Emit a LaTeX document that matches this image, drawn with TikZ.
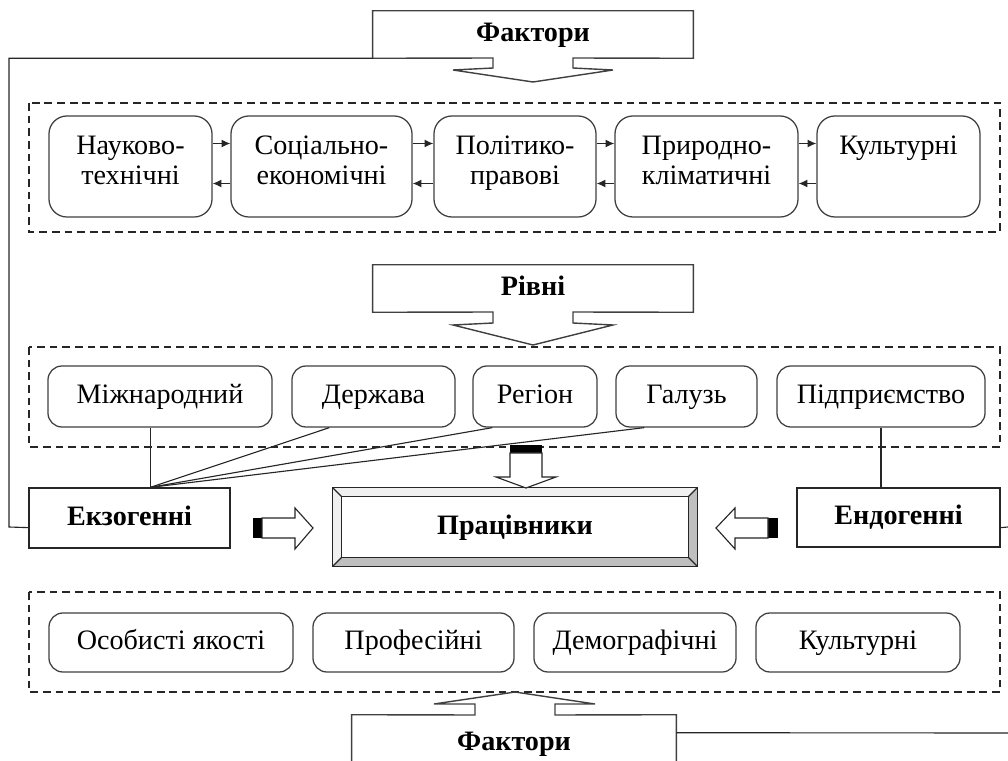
\documentclass[tikz,border=0pt]{standalone}
\usepackage{fontspec}
\setmainfont{Liberation Serif}
\usetikzlibrary{calc,arrows.meta}
\newcommand{\fsz}{\fontsize{20pt}{21.3pt}\selectfont}

\begin{document}
\begin{tikzpicture}[x=0.025cm,y=-0.025cm,
	every node/.style={font=\fsz,inner sep=0pt,align=center,text height=14pt,text depth=4pt},
	factbox/.style={draw=black!75,line width=0.9pt,rounded corners=0.35cm,fill=white},
	twoline/.style={rounded corners=0.45cm,text height=1.45cm,text depth=0.575cm},
	framebox/.style={draw=black!85,line width=0.9pt,fill=white,font=\fsz\bfseries},
	headbox/.style={font=\fsz\bfseries},
	callout/.style={draw=black!75,line width=1pt},
	group/.style={draw=black!85,line width=0.8pt,dash pattern=on 5.5pt off 3.5pt},
	link/.style={draw=black!85,line width=0.8pt},
	tip/.style={-{Latex[length=0.22cm,width=0.2cm]}},
	blockarrow/.style={draw=black!85,line width=0.8pt,fill=white}]
			\useasboundingbox (0,0) rectangle (1008,761);
			\clip (0,0) rectangle (1008,761);

			\draw[group] (29,103) rectangle (1000,232);
			\draw[group] (29,347) rectangle (1000,447);
			\draw[group] (29,592) rectangle (1000,692);

			\node[headbox,minimum width=8cm,minimum height=1.175cm] (topfak) at (533,34.5) {Фактори};
			\draw[callout] (topfak.south west) -- (topfak.north west) -- (topfak.north east) -- (topfak.south east) -- (573,58) -- (573,68) -- (613,70) -- (533,82) -- (453,70) -- (493,68) -- (493,58) -- cycle;

			\node[factbox,twoline,minimum width=4.075cm,minimum height=2.525cm] (nauk) at (130.5,166.5) {Науково-\\технічні};
			\node[factbox,twoline,minimum width=4.525cm,minimum height=2.525cm] (soc) at (321.5,166.5) {Соціально-\\економічні};
			\node[factbox,twoline,minimum width=4.05cm,minimum height=2.525cm] (pol) at (515,166.5) {Політико-\\правові};
			\node[factbox,twoline,minimum width=4.575cm,minimum height=2.525cm] (pryr) at (706.5,166.5) {Природно-\\кліматичні};
			\node[factbox,twoline,minimum width=4.075cm,minimum height=2.525cm] (kult) at (898.5,166.5) {Культурні\\\phantom{к}};

			\draw[link,tip] ($(nauk.east)+(0,-23)$) -- ($(soc.west)+(0,-23)$);
			\draw[link,tip] ($(soc.west)+(0,17)$) -- ($(nauk.east)+(0,17)$);
			\draw[link,tip] ($(soc.east)+(0,-23)$) -- ($(pol.west)+(0,-23)$);
			\draw[link,tip] ($(pol.west)+(0,17)$) -- ($(soc.east)+(0,17)$);
			\draw[link,tip] ($(pol.east)+(0,-23)$) -- ($(pryr.west)+(0,-23)$);
			\draw[link,tip] ($(pryr.west)+(0,17)$) -- ($(pol.east)+(0,17)$);
			\draw[link,tip] ($(pryr.east)+(0,-23)$) -- ($(kult.west)+(0,-23)$);
			\draw[link,tip] ($(kult.west)+(0,17)$) -- ($(pryr.east)+(0,17)$);

			\node[headbox,minimum width=8cm,minimum height=1.175cm] (rivni) at (533,288.5) {Рівні};
			\draw[callout] (rivni.south west) -- (rivni.north west) -- (rivni.north east) -- (rivni.south east) -- (573,312) -- (573,323) -- (613,325) -- (533,345) -- (453,325) -- (493,323) -- (493,312) -- cycle;

			\node[factbox,minimum width=5.6cm,minimum height=1.525cm] (mizh) at (160,396.5) {Міжнародний};
			\node[factbox,minimum width=4.075cm,minimum height=1.525cm] (derzh) at (373.5,396.5) {Держава};
			\node[factbox,minimum width=3.1cm,minimum height=1.525cm] (reg) at (535,396.5) {Регіон};
			\node[factbox,minimum width=3.525cm,minimum height=1.525cm] (gal) at (686.5,396.5) {Галузь};
			\node[factbox,minimum width=5.2cm,minimum height=1.525cm] (pidp) at (881,396.5) {Підприємство};

			\node[framebox,minimum width=5.025cm,minimum height=1.5cm] (exo) at (129.5,518) {Екзогенні};
			\node[framebox,minimum width=5.075cm,minimum height=1.475cm] (endo) at (898.5,517.5) {Ендогенні};

			\coordinate (exojoin) at ($(exo.north west)+(122,0)$);
			\draw[link] (mizh.south -| exojoin) -- (exojoin);
			\draw[link] ($(derzh.south west)+(38,0)$) -- (exojoin);
			\draw[link] ($(reg.south west)+(20,0)$) -- (exojoin);
			\draw[link] ($(gal.south west)+(29,0)$) -- (exojoin);
			\draw[link] (pidp.south) -- (pidp.south |- endo.north);

			\draw[link] (topfak.south west) -| (9,527) -- ($(exo.south west)+(0,-21)$);
			\coordinate (railtop) at (1008,527);
			\draw[link] ($(endo.south east)+(0,-20)$) -- (railtop);

			\node[headbox,minimum width=8.65cm,minimum height=1.5cm] (prac) at (515,527) {Працівники};
			\coordinate (pnw) at ($(prac.north west)+(-9,-9)$);
			\coordinate (pne) at ($(prac.north east)+(9,-9)$);
			\coordinate (pse) at ($(prac.south east)+(9,9)$);
			\coordinate (psw) at ($(prac.south west)+(-9,9)$);
			\fill[gray!12] (pnw) -- (pne) -- (prac.north east) -- (prac.north west) -- (prac.south west) -- (psw) -- cycle;
			\fill[gray!50] (pne) -- (pse) -- (psw) -- (prac.south west) -- (prac.south east) -- (prac.north east) -- cycle;
			\draw[link] (pnw) rectangle (pse);
			\draw[link] (prac.north west) rectangle (prac.south east);
			\draw[link] (pnw) -- (prac.north west);
			\draw[link] (pne) -- (prac.north east);
			\draw[link] (pse) -- (prac.south east);
			\draw[link] (psw) -- (prac.south west);

			\fill (510,445) rectangle (542,453);
			\draw[blockarrow] (510,453) -- (510,477) -- (496,477) -- (526,488) -- (556,477) -- (542,477) -- (542,453) -- cycle;

			\fill (253,518) rectangle (262,538);
			\draw[blockarrow] (262,518) -- (295,518) -- (295,508) -- (313,528) -- (295,549) -- (295,538) -- (262,538) -- cycle;

			\fill (768,518) rectangle (778,538);
			\draw[blockarrow] (768,518) -- (735,518) -- (735,508) -- (716,528) -- (735,549) -- (735,538) -- (768,538) -- cycle;

			\node[factbox,minimum width=6.1cm,minimum height=1.475cm] (osob) at (171,642.5) {Особисті якості};
			\node[factbox,minimum width=5.025cm,minimum height=1.475cm] (prof) at (413.5,642.5) {Професійні};
			\node[factbox,minimum width=5.05cm,minimum height=1.475cm] (demo) at (635,642.5) {Демографічні};
			\node[factbox,minimum width=5.1cm,minimum height=1.475cm] (kultos) at (858,642.5) {Культурні};

			\node[headbox,minimum width=8.1cm,minimum height=1.4cm] (botfak) at (514,743) {Фактори};
			\draw[callout] (botfak.south west) -- (botfak.north west) -- (475,715) -- (475,704) -- (434,704) -- (515,692) -- (595,704) -- (555,704) -- (555,715) -- (botfak.north east) -- (botfak.south east);
			\coordinate (railbot) at (1008,733);
			\draw[link] ($(botfak.north east)+(0,18)$) -- (railbot);
		\end{tikzpicture}
\end{document}
